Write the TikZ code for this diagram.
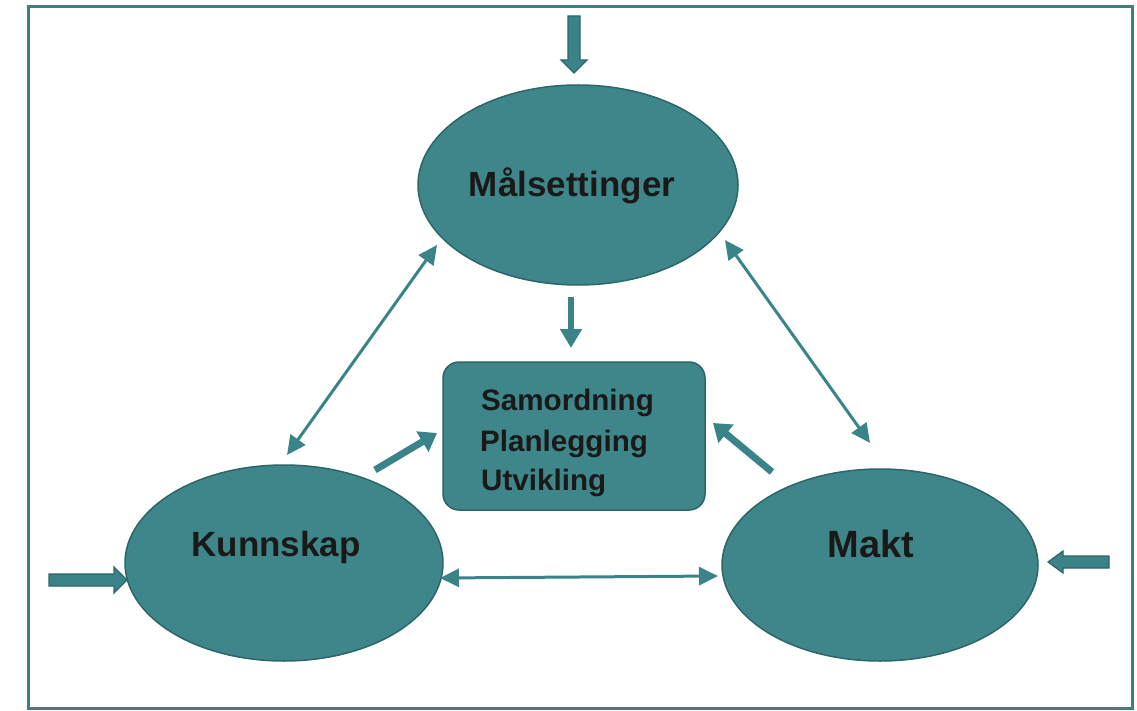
\documentclass[tikz,border=0pt]{standalone}
\usepackage{fontspec}
\setmainfont{Liberation Sans}
\usetikzlibrary{arrows.meta,shapes.geometric}
\definecolor{tealfill}{HTML}{3F868B}
\definecolor{tealedge}{HTML}{2C6669}
\definecolor{tealarrow}{HTML}{3A8489}
\definecolor{tealframe}{HTML}{3E7E84}
\tikzset{
  oval/.style={ellipse, fill=tealfill, draw=tealedge, line width=1.5pt, inner sep=0pt},
  bigtext/.style={font=\fontsize{35}{40}\selectfont\bfseries, text=black!90, inner sep=0pt, anchor=base},
  boxtext/.style={font=\fontsize{29.6}{36}\selectfont\bfseries, text=black!90, inner sep=0pt, anchor=base west},
  thinarrow/.style={draw=tealarrow, line width=3pt, {Triangle[length=19pt,width=18pt]}-{Triangle[length=19pt,width=18pt]}},
  thickarrow/.style={draw=tealarrow, line width=7pt, -{Triangle[length=17pt,width=23pt]}},
  midarrow/.style={draw=tealarrow, line width=6pt, -{Triangle[length=19pt,width=21pt]}},
  blockarrow/.style={fill=tealarrow, draw=tealedge, line width=1.2pt, line join=miter}
}
\begin{document}
\begin{tikzpicture}[x=1pt,y=-1pt]
\useasboundingbox (0,0) rectangle (1137,711);
% frame
\draw[tealframe, line width=3pt] (28,7) rectangle (1132,708);
% ellipses
\node[oval, minimum width=320pt, minimum height=200pt] (mal) at (578,185) {};
\node[oval, minimum width=318pt, minimum height=196pt] (kun) at (284,563) {};
\node[oval, minimum width=316pt, minimum height=192pt] (makt) at (880,565) {};
% central box
\node[draw=tealedge, fill=tealfill, line width=1.5pt, rounded corners=16pt, minimum width=262pt, minimum height=148pt, inner sep=0pt] (box) at (574,436) {};
% texts
\node[bigtext] (tmal) at (572,197) {Målsettinger};
\node[bigtext] (tkun) at (276,556) {Kunnskap};
\node[bigtext, font=\fontsize{38}{44}\selectfont\bfseries] (tmakt) at (871,557) {Makt};
\node[boxtext] (s1) at (481,410) {Samordning};
\node[boxtext] (s2) at (480,451) {Planlegging};
\node[boxtext] (s3) at (481,490) {Utvikling};
% connector end points
\coordinate (kA) at (287,455);
\coordinate (mA) at (437,245);
\coordinate (mB) at (725,240);
\coordinate (rB) at (870,443);
\coordinate (kC) at (440,578);
\coordinate (rC) at (718,576);
\coordinate (kD) at (375,470);
\coordinate (bD) at (437,433);
\coordinate (rE) at (772,472);
\coordinate (bE) at (713,423);
\coordinate (mF) at (571,297);
\coordinate (bF) at (571,348);
% double-headed connectors
\draw[thinarrow] (kA) -- (mA);
\draw[thinarrow] (mB) -- (rB);
\draw[thinarrow] (kC) -- (rC);
% into the box
\draw[thickarrow] (kD) -- (bD);
\draw[thickarrow] (rE) -- (bE);
\draw[midarrow] (mF) -- (bF);
% outer block arrows
\draw[blockarrow] (568,16) -- (580,16) -- (580,60) -- (587,60) -- (574,73) -- (561,60) -- (568,60) -- cycle;
\draw[blockarrow] (49,574) -- (114,574) -- (114,567) -- (127,580) -- (114,593) -- (114,586) -- (49,586) -- cycle;
\draw[blockarrow] (1109,556) -- (1063,556) -- (1063,551) -- (1048,562) -- (1063,573) -- (1063,568) -- (1109,568) -- cycle;
\end{tikzpicture}
\end{document}
